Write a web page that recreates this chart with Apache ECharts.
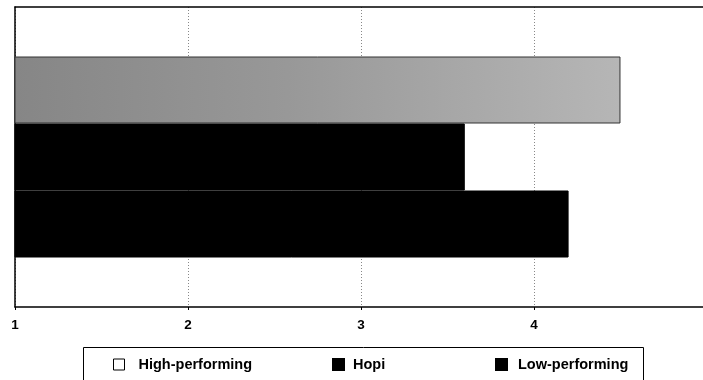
<!DOCTYPE html>
<html>
<head>
<meta charset="utf-8">
<script src="https://cdn.jsdelivr.net/npm/echarts@6/dist/echarts.min.js"></script>
<style>
  html, body { margin: 0; padding: 0; background: #fff; }
  #chart { width: 703px; height: 380px; }
</style>
</head>
<body>
<div id="chart"></div>
<script>
// Mean ratings on a 1–5 scale, one bar per group
const groups = ['High-performing', 'Hopi', 'Low-performing'];
const values = [4.5, 3.6, 4.2];
const category = [''];
const tickLabels = ['1', '2', '3', '4'];
const axisMin = 1;
const axisMax = 4.977; // the scale runs on to 5 just past the right edge

const font = '"Liberation Sans", Arial, Helvetica, sans-serif';

const fills = [
  { type: 'linear', x: 0, y: 0, x2: 1, y2: 0,
    colorStops: [{ offset: 0, color: '#868686' }, { offset: 0.45, color: '#989898' }, { offset: 1, color: '#b6b6b6' }] },
  '#000000',
  '#000000'
];
const borders = ['#333', '#000', '#000'];
const legendIcons = [
  { color: '#ffffff', borderColor: '#000', borderWidth: 1 },
  { color: '#000000' },
  { color: '#000000' }
];
const legendLeft = [113, 332, 495];
const legendTextGap = [9, 4, 6];

const chart = echarts.init(document.getElementById('chart'), null, { renderer: 'canvas' });

const valueAxisBase = {
  type: 'value',
  min: axisMin, max: axisMax, interval: 1
};

chart.setOption({
  backgroundColor: '#ffffff',
  animation: false,
  grid: {
    left: 15, right: 0, top: 7, bottom: 73,
    outerBoundsMode: 'none', containLabel: false
  },
  xAxis: [
    Object.assign({}, valueAxisBase, {
      position: 'bottom',
      axisLine: { show: true, onZero: false, lineStyle: { color: '#000', width: 1.5 } },
      axisTick: { show: true, length: 3, lineStyle: { color: '#000' } },
      axisLabel: {
        color: '#000', fontFamily: font, fontWeight: 'bold', fontSize: 13.5, margin: 11,
        showMaxLabel: false,
        formatter: v => tickLabels[Math.round(v) - 1] || ''
      },
      splitLine: { show: true, lineStyle: { color: '#888', type: [1, 2], width: 1 } }
    }),
    Object.assign({}, valueAxisBase, {
      position: 'top',
      axisLine: { show: true, onZero: false, lineStyle: { color: '#000', width: 1.5 } },
      axisTick: { show: false },
      axisLabel: { show: false },
      splitLine: { show: false }
    })
  ],
  yAxis: {
    type: 'category',
    data: category,
    inverse: true,
    axisLine: { show: true, lineStyle: { color: '#000', width: 1.5 } },
    axisTick: { show: false },
    axisLabel: { show: false }
  },
  legend: groups.map((g, i) => ({
    data: [{ name: g, icon: 'rect', itemStyle: legendIcons[i] }],
    left: legendLeft[i], top: 357, padding: 0,
    itemWidth: 11, itemHeight: 11, itemGap: 0,
    textStyle: { color: '#000', fontFamily: font, fontWeight: 'bold', fontSize: 14.5, padding: [0, 0, 0, legendTextGap[i]] },
    selectedMode: false
  })),
  graphic: [{
    type: 'rect',
    shape: { x: 83.5, y: 347.5, width: 560, height: 40 },
    style: { fill: 'none', stroke: '#000', lineWidth: 1 },
    silent: true
  }],
  series: groups.map((g, i) => ({
    name: g,
    type: 'bar',
    data: [values[i]],
    barGap: '0%',
    barCategoryGap: '33%',
    itemStyle: { color: fills[i], borderColor: borders[i], borderWidth: 1 }
  }))
});
</script>
</body>
</html>
